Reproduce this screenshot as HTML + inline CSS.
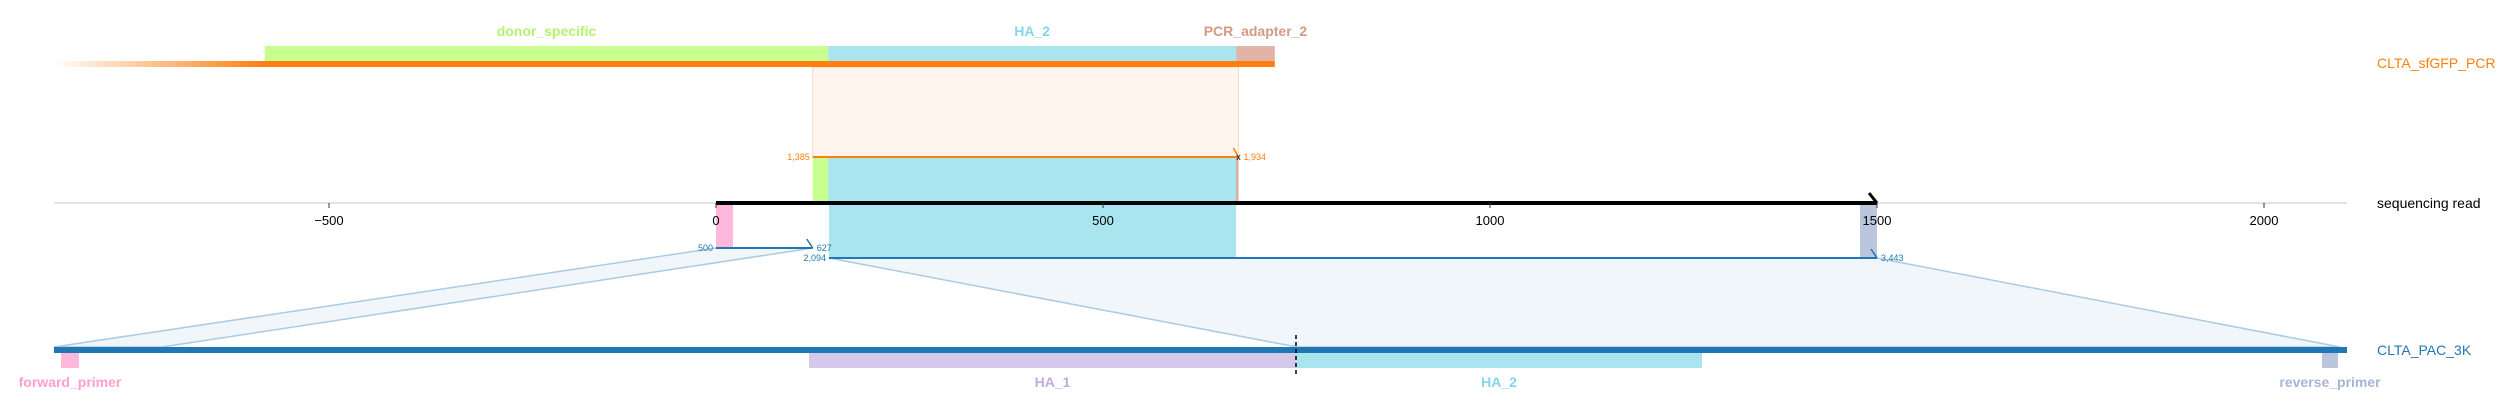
<!DOCTYPE html>
<html><head><meta charset="utf-8"><style>
body{margin:0;background:#fff}
svg{display:block;font-family:"Liberation Sans","DejaVu Sans",sans-serif}
</style></head><body>
<svg id="chart" width="2504" height="415" viewBox="0 0 2504 415" xmlns="http://www.w3.org/2000/svg">
<defs>
<linearGradient id="fade" x1="0" x2="1" y1="0" y2="0">
<stop offset="0" stop-color="#ff7f0e" stop-opacity="0"/>
<stop offset="1" stop-color="#ff7f0e" stop-opacity="1"/>
</linearGradient>
</defs>
<g id="layer"></g>
</svg>
<script>
const axisTicks = [-500, 0, 500, 1000, 1500, 2000];
const axisDomain = [-855, 2107];
const readLength = [0, 1500];
const topFeatureNames = ['donor_specific', 'HA_2', 'PCR_adapter_2'];
const topFeatureStarts = [-583, 145, 672];
const topFeatureEnds = [145, 672, 722];
const topFeatureColors = ['#c7ff8e', '#a8e5ee', '#e2b4a8'];
const topLabelColors = ['#b6f26e', '#85d6e8', '#d49a88'];
const topAlign = [125, 675];
const topAlignLabels = ['1,385', '1,934'];
const readAligns = [[0, 125], [146, 1500]];
const readAlignLabels = [['500', '627'], ['2,094', '3,443']];
const botNames = ['forward_primer', 'HA_1', 'HA_2', 'reverse_primer'];
const botStarts = [7, 755, 1242, 2268];
const botEnds = [25, 1242, 1648, 2284];
const botColors = ['#ffb8dc', '#d6c8ea', '#a8e5ee', '#bac6de'];
const botLabelColors = ['#ff9fd0', '#c2aae2', '#85d6e8', '#a6b6d6'];
const botLength = 2293;
const botCut = 1242;
const botAlignEnds = [[0, 108], [1243, 2286]];

const NS = 'http://www.w3.org/2000/svg';
const g = document.getElementById('layer');
const X0 = 716, K = 0.774;
const x = v => X0 + v * K;
const bx = v => 54 + v;
function el(tag, attrs, text) {
  const e = document.createElementNS(NS, tag);
  for (const k in attrs) e.setAttribute(k, attrs[k]);
  if (text !== undefined) e.textContent = text;
  g.appendChild(e);
  return e;
}
const AY = 203, TY = 60, BY = 347;

let e = el('line', {x1: x(axisDomain[0]), x2: x(axisDomain[1]), y1: AY, y2: AY, stroke: '#e2e2e2', 'stroke-width': 2});



e = el('rect', {x: x(topAlign[0]), y: TY + 7, width: x(topAlign[1]) - x(topAlign[0]), height: 157 - TY - 7, fill: '#fff5ee', stroke: '#fdd9c0', 'stroke-width': 1});



[[readAligns[0], botAlignEnds[0], 248], [readAligns[1], botAlignEnds[1], 258]].forEach(([ra, ba, y]) => {
  let p = el('polygon', {points: `${x(ra[0])},${y} ${x(ra[1])},${y} ${bx(ba[1])},${BY} ${bx(ba[0])},${BY}`, fill: '#f0f6fa', stroke: '#a9cbe3', 'stroke-width': 1.5});
  
  
});

topFeatureNames.forEach((n, i) => {
  let r = el('rect', {x: x(topFeatureStarts[i]), y: 46, width: x(topFeatureEnds[i]) - x(topFeatureStarts[i]), height: 15, fill: topFeatureColors[i]});
  
  
  let t = el('text', {x: (x(topFeatureStarts[i]) + x(topFeatureEnds[i])) / 2, y: 36, 'text-anchor': 'middle', 'font-size': 14, 'font-weight': 'bold', fill: topLabelColors[i]}, n);
  
  
});
e = el('rect', {x: 54, y: TY + 1, width: 211, height: 6, fill: 'url(#fade)'});


e = el('rect', {x: 265, y: TY + 1, width: x(722) - 265, height: 6, fill: '#ff7f0e'});



[[topAlign[0], 145, '#c7ff8e'], [145, 672, '#a8e5ee'], [672, topAlign[1], '#d9a898']].forEach(([a, b, c]) => {
  let r = el('rect', {x: x(a), y: 157, width: x(b) - x(a), height: AY - 157, fill: c});
  
  
});
[[0, 22, '#ffb8dc', 248], [146, 672, '#a8e5ee', 258], [1478, 1500, '#bac6de', 258]].forEach(([a, b, c, y]) => {
  let r = el('rect', {x: x(a), y: AY, width: x(b) - x(a), height: y - AY, fill: c});
  
  
});

e = el('line', {x1: x(topAlign[0]), x2: x(topAlign[1]), y1: 157, y2: 157, stroke: '#ff7f0e', 'stroke-width': 2});


e = el('polyline', {points: `${x(topAlign[1]) - 5},148 ${x(topAlign[1])},157`, fill: 'none', stroke: '#ff7f0e', 'stroke-width': 1.5});


e = el('text', {x: x(topAlign[1]), y: 160, 'text-anchor': 'middle', 'font-size': 9, fill: '#000'}, 'x');


e = el('text', {x: x(topAlign[0]) - 3, y: 160, 'text-anchor': 'end', 'font-size': 9, fill: '#ff7f0e'}, topAlignLabels[0]);


e = el('text', {x: x(topAlign[1]) + 5, y: 160, 'font-size': 9, fill: '#ff7f0e'}, topAlignLabels[1]);



readAligns.forEach((ra, i) => {
  const y = i === 0 ? 248 : 258;
  let l = el('line', {x1: x(ra[0]), x2: x(ra[1]), y1: y, y2: y, stroke: '#1f77b4', 'stroke-width': 2});
  
  
  let a = el('polyline', {points: `${x(ra[1]) - 6},${y - 9} ${x(ra[1])},${y}`, fill: 'none', stroke: '#1f77b4', 'stroke-width': 1.5});
  
  
  let t1 = el('text', {x: x(ra[0]) - 3, y: y + 3, 'text-anchor': 'end', 'font-size': 9, fill: '#1f77b4'}, readAlignLabels[i][0]);
  
  
  let t2 = el('text', {x: x(ra[1]) + 4, y: y + 3, 'font-size': 9, fill: '#1f77b4'}, readAlignLabels[i][1]);
  
  
});

e = el('line', {x1: x(readLength[0]), x2: x(readLength[1]), y1: AY, y2: AY, stroke: '#000', 'stroke-width': 4});


e = el('polyline', {points: `${x(readLength[1]) - 8},193 ${x(readLength[1])},${AY}`, fill: 'none', stroke: '#000', 'stroke-width': 3});



// ticks on top
axisTicks.forEach(t => {
  let tk = el('line', {x1: x(t), x2: x(t), y1: AY, y2: AY + 5, stroke: '#333', 'stroke-width': 1});
  
  
  let lb = el('text', {x: x(t), y: AY + 22, 'text-anchor': 'middle', 'font-size': 13, fill: '#000'}, t < 0 ? '\u2212' + (-t) : String(t));
  
  
});

e = el('rect', {x: bx(0), y: BY, width: botLength, height: 6, fill: '#1f77b4'});


botNames.forEach((n, i) => {
  let r = el('rect', {x: bx(botStarts[i]), y: BY + 6, width: botEnds[i] - botStarts[i], height: 15, fill: botColors[i]});
  
  
  let t = el('text', {x: bx((botStarts[i] + botEnds[i]) / 2), y: 387, 'text-anchor': 'middle', 'font-size': 14, 'font-weight': 'bold', fill: botLabelColors[i]}, n);
  
  
});
e = el('line', {x1: bx(botCut), x2: bx(botCut), y1: 335, y2: 375, stroke: '#000', 'stroke-width': 1.5, 'stroke-dasharray': '4,3'});



[['CLTA_sfGFP_PCR', 68, '#ff7f0e', 'top-track-label'], ['sequencing read', 208, '#000', 'read-label'], ['CLTA_PAC_3K', 355, '#1f77b4', 'bottom-track-label']].forEach(([s, y, c, n]) => {
  let t = el('text', {x: 2377, y: y, 'font-size': 14, fill: c}, s);
  
  
});
</script>
</body></html>
